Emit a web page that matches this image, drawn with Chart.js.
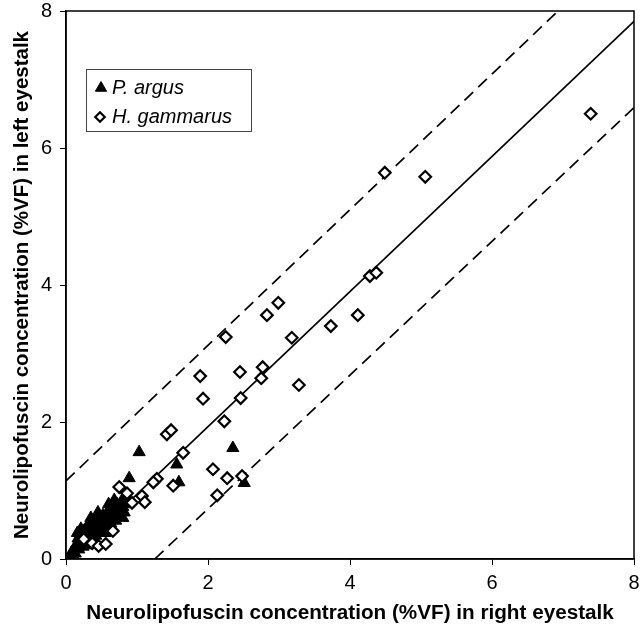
<!DOCTYPE html>
<html>
<head>
<meta charset="utf-8">
<script src="https://cdn.jsdelivr.net/npm/chart.js@4.4.1/dist/chart.umd.min.js"></script>
<style>
  html, body { margin: 0; padding: 0; background: #fff; }
  canvas { display: block; }
</style>
</head>
<body>
<canvas id="c" width="642" height="639"></canvas>
<script>
// ---- Data ----
const seriesNames = ['P. argus', 'H. gammarus'];
const axisTicks = [0, 2, 4, 6, 8];
const xTitle = 'Neurolipofuscin concentration (%VF) in right eyestalk';
const yTitle = 'Neurolipofuscin concentration (%VF) in left eyestalk';

// H. gammarus (open diamonds)
const hgX = [7.39, 4.49, 5.06, 4.28, 4.37, 2.99, 2.83, 2.25, 3.18, 3.73, 4.11, 1.89, 2.45, 2.77, 2.75,
             1.93, 2.46, 3.28, 2.23, 1.65, 2.07, 2.27, 2.48, 2.13, 1.42, 1.48, 1.28, 1.23, 1.51, 0.86,
             1.07, 1.11, 0.93, 0.75, 0.66, 0.25, 0.37, 0.46, 0.56];
const hgY = [6.50, 5.64, 5.58, 4.13, 4.18, 3.74, 3.56, 3.24, 3.23, 3.40, 3.56, 2.67, 2.73, 2.80, 2.64,
             2.34, 2.35, 2.54, 2.01, 1.55, 1.31, 1.18, 1.21, 0.93, 1.82, 1.88, 1.17, 1.12, 1.07, 0.96,
             0.92, 0.83, 0.82, 1.05, 0.41, 0.29, 0.23, 0.19, 0.22];

// P. argus (filled triangles)
const paX = [1.03, 0.89, 1.56, 1.59, 2.35, 2.51,
             0.06, 0.08, 0.10, 0.12, 0.13, 0.15, 0.17, 0.18, 0.20, 0.22, 0.24, 0.26, 0.28, 0.30,
             0.32, 0.34, 0.36, 0.38, 0.40, 0.42, 0.44, 0.46, 0.48, 0.50, 0.52, 0.54, 0.56, 0.58,
             0.60, 0.62, 0.63, 0.65, 0.67, 0.69, 0.70, 0.72, 0.74, 0.76, 0.78, 0.80, 0.82, 0.84,
             0.16, 0.21, 0.30, 0.35, 0.45, 0.55, 0.68, 0.80, 0.86, 0.12, 0.40, 0.60];
const paY = [1.56, 1.18, 1.38, 1.12, 1.62, 1.11,
             0.03, 0.10, 0.05, 0.15, 0.08, 0.22, 0.30, 0.14, 0.24, 0.36, 0.18, 0.42, 0.30, 0.48,
             0.38, 0.26, 0.50, 0.42, 0.56, 0.34, 0.46, 0.60, 0.52, 0.40, 0.64, 0.56, 0.48, 0.68,
             0.60, 0.72, 0.52, 0.64, 0.76, 0.68, 0.56, 0.80, 0.72, 0.62, 0.84, 0.76, 0.68, 0.80,
             0.38, 0.44, 0.20, 0.60, 0.68, 0.38, 0.86, 0.60, 0.90, 0.02, 0.28, 0.80];

// Regression line and 95% bands (end points)
const fitX = [0.05, 8.0];
const fitY = [0.01, 7.85];
const upperX = [0.0, 6.93];
const upperY = [1.14, 8.0];
const lowerX = [1.25, 8.0];
const lowerY = [0.0, 6.59];

const toPts = (xs, ys) => xs.map((x, i) => ({ x: x, y: ys[i] }));

const FONT = '"Liberation Sans", Arial, Helvetica, sans-serif';

const framePlugin = {
  id: 'frameLegend',
  afterDraw(chart) {
    const { ctx, chartArea: a } = chart;
    ctx.save();
    ctx.strokeStyle = '#000';
    ctx.lineWidth = 1.5;
    ctx.strokeRect(a.left, a.top, a.right - a.left, a.bottom - a.top);

    // legend box
    ctx.lineWidth = 1;
    ctx.strokeStyle = '#444';
    ctx.strokeRect(86.5, 69.5, 165, 62);

    // markers
    ctx.fillStyle = '#000'; ctx.strokeStyle = '#000'; ctx.lineWidth = 1;
    Chart.helpers.drawPoint(ctx, { pointStyle: 'triangle', radius: 6.5, borderWidth: 1 }, 101, 88);
    ctx.fillStyle = '#fff'; ctx.strokeStyle = '#000'; ctx.lineWidth = 2.2;
    Chart.helpers.drawPoint(ctx, { pointStyle: 'rectRot', radius: 4.8, borderWidth: 2.2 }, 100, 117);

    ctx.fillStyle = '#000';
    ctx.font = 'italic 20px ' + FONT;
    ctx.textBaseline = 'alphabetic';
    ctx.textAlign = 'left';
    ctx.fillText(seriesNames[0], 112, 94);
    ctx.fillText(seriesNames[1], 112, 123);
    ctx.restore();
  }
};

new Chart(document.getElementById('c'), {
  type: 'scatter',
  data: {
    datasets: [
      {
        label: seriesNames[1],
        data: toPts(hgX, hgY),
        pointStyle: 'rectRot',
        pointRadius: 5.8,
        pointBackgroundColor: '#fff',
        pointBorderColor: '#000',
        pointBorderWidth: 2.2,
        showLine: false
      },
      {
        label: seriesNames[0],
        data: toPts(paX, paY),
        pointStyle: 'triangle',
        pointRadius: 7,
        pointBackgroundColor: '#000',
        pointBorderColor: '#000',
        pointBorderWidth: 1,
        showLine: false
      },
      {
        label: 'fit',
        data: toPts(fitX, fitY),
        showLine: true,
        pointRadius: 0,
        borderColor: '#000',
        borderWidth: 1.7,
        fill: false
      },
      {
        label: 'upper',
        data: toPts(upperX, upperY),
        showLine: true,
        pointRadius: 0,
        borderColor: '#000',
        borderWidth: 1.7,
        borderDash: [12, 7],
        fill: false
      },
      {
        label: 'lower',
        data: toPts(lowerX, lowerY),
        showLine: true,
        pointRadius: 0,
        borderColor: '#000',
        borderWidth: 1.7,
        borderDash: [12, 7],
        fill: false
      }
    ]
  },
  options: {
    responsive: false,
    animation: false,
    events: [],
    layout: { padding: { top: 11, right: 8, left: 0, bottom: 0 } },
    plugins: { legend: { display: false }, tooltip: { enabled: false } },
    scales: {
      x: {
        type: 'linear',
        min: axisTicks[0],
        max: axisTicks[axisTicks.length - 1],
        afterBuildTicks: s => { s.ticks = axisTicks.map(v => ({ value: v })); },
        ticks: { color: '#000', font: { family: FONT, size: 20 }, padding: 6 },
        grid: { drawOnChartArea: false, drawTicks: true, tickLength: 6, color: '#000', lineWidth: 1 },
        border: { display: true, color: '#000', width: 1.5 },
        title: { display: true, text: xTitle, color: '#000',
                 font: { family: FONT, size: 20.7, weight: 'bold' }, padding: { top: 0, bottom: 13 } },
        afterFit: s => { s.height = 80; s.paddingLeft = 0; s.paddingRight = 0; }
      },
      y: {
        type: 'linear',
        min: axisTicks[0],
        max: axisTicks[axisTicks.length - 1],
        afterBuildTicks: s => { s.ticks = axisTicks.map(v => ({ value: v })); },
        ticks: { color: '#000', font: { family: FONT, size: 20 }, padding: 8 },
        grid: { drawOnChartArea: false, drawTicks: true, tickLength: 6, color: '#000', lineWidth: 1 },
        border: { display: true, color: '#000', width: 1.5 },
        title: { display: true, text: yTitle, color: '#000',
                 font: { family: FONT, size: 20.5, weight: 'bold' }, padding: { top: 10, bottom: 0 } },
        afterFit: s => { s.width = 66; s.paddingTop = 0; s.paddingBottom = 0; }
      }
    }
  },
  plugins: [framePlugin]
});
</script>
</body>
</html>
